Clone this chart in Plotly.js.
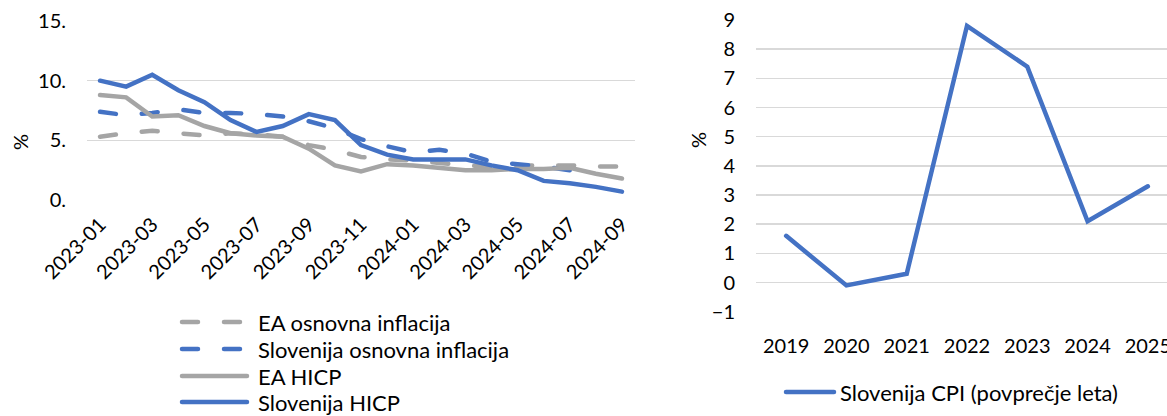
<!DOCTYPE html>
<html><head><meta charset="utf-8">
<script src="https://cdn.plot.ly/plotly-3.0.1.min.js"></script>
<style>
html,body{margin:0;padding:0;overflow:hidden;background:#fff;}
#chart{width:1180px;height:416px;}
.js-line{stroke-linecap:round;}
.shapelayer path{stroke-linecap:round;}
</style></head><body><div id="chart"></div>
<script>
const months = ['2023-01','2023-02','2023-03','2023-04','2023-05','2023-06','2023-07','2023-08','2023-09','2023-10','2023-11','2023-12',
                '2024-01','2024-02','2024-03','2024-04','2024-05','2024-06','2024-07','2024-08','2024-09'];
const eaCore = [5.3, 5.6, 5.8, 5.6, 5.4, 5.6, 5.5, 5.3, 4.6, 4.2, 3.6, 3.4, 3.3, 3.1, 2.9, 2.8, 2.9, 2.9, 2.9, 2.8, 2.8];
const siCore = [7.4, 7.1, 7.3, 7.6, 7.3, 7.3, 7.2, 7.0, 6.6, 6.0, 5.1, 4.5, 4.0, 4.2, 3.9, 3.2, 3.0, 2.8, 2.5, null, null];
const eaHicp = [8.8, 8.6, 7.0, 7.1, 6.2, 5.6, 5.4, 5.3, 4.3, 2.9, 2.4, 3.0, 2.9, 2.7, 2.5, 2.5, 2.6, 2.6, 2.7, 2.2, 1.8];
const siHicp = [10.0, 9.5, 10.5, 9.2, 8.2, 6.7, 5.7, 6.2, 7.2, 6.7, 4.6, 3.8, 3.4, 3.4, 3.4, 2.9, 2.5, 1.6, 1.4, 1.1, 0.7];
const years = ['2019','2020','2021','2022','2023','2024','2025'];
const siCpi = [1.6, -0.1, 0.3, 8.8, 7.4, 2.1, 3.3];
const leftNames = ['EA osnovna inflacija','Slovenija osnovna inflacija','EA HICP','Slovenija HICP'];
const rightName = 'Slovenija CPI (povprečje leta)';
const leftTickVals = [0, 5, 10, 15];
const leftTickText = ['0.', '5.', '10.', '15.'];
const rightTickVals = [-1, 0, 1, 2, 3, 4, 5, 6, 7, 8, 9];

const W = 1180, H = 416;
const BLUE = '#4472C4', GRAY = '#A5A5A5', GRID = '#D9D9D9';
const FONT = 'Lato, "Open Sans", sans-serif';
const px = v => v / W;
const py = v => 1 - v / H;
const DASH = '16px,26px';

const leftStyles = [
  {color: GRAY, dash: DASH},
  {color: BLUE, dash: DASH},
  {color: GRAY, dash: 'solid'},
  {color: BLUE, dash: 'solid'}
];
const leftSeries = [eaCore, siCore, eaHicp, siHicp];

const data = leftSeries.map((s, i) => ({
  type: 'scatter', mode: 'lines', x: months, y: s, name: leftNames[i],
  xaxis: 'x', yaxis: 'y', connectgaps: false,
  line: {color: leftStyles[i].color, width: 4.5, dash: leftStyles[i].dash},
  showlegend: false, hoverinfo: 'x+y+name'
}));
data.push({
  type: 'scatter', mode: 'lines', x: years, y: siCpi, name: rightName,
  xaxis: 'x2', yaxis: 'y2', line: {color: BLUE, width: 4.5}, showlegend: false
});

const legendY = [322, 349, 376, 402];
const shapes = [];
const annotations = [];
leftNames.forEach((n, i) => {
  shapes.push({type: 'line', xref: 'paper', yref: 'paper',
    x0: px(182), x1: px(247), y0: py(legendY[i]), y1: py(legendY[i]),
    line: {color: leftStyles[i].color, width: 4.5, dash: leftStyles[i].dash}});
  annotations.push({xref: 'paper', yref: 'paper', x: px(257), y: py(legendY[i]),
    xanchor: 'left', yanchor: 'middle', showarrow: false, text: n, borderpad: 0,
    font: {family: FONT, size: 22, color: '#000'}});
});
shapes.push({type: 'line', xref: 'paper', yref: 'paper',
  x0: px(786), x1: px(834), y0: py(392), y1: py(392),
  line: {color: BLUE, width: 4.5}});
annotations.push({xref: 'paper', yref: 'paper', x: px(839), y: py(392),
  xanchor: 'left', yanchor: 'middle', showarrow: false, text: rightName, borderpad: 0,
  font: {family: FONT, size: 22, color: '#000'}});
annotations.push({xref: 'paper', yref: 'paper', x: px(20), y: py(142),
  xanchor: 'center', yanchor: 'middle', showarrow: false, text: '%', textangle: -90,
  font: {family: FONT, size: 20, color: '#000'}});
annotations.push({xref: 'paper', yref: 'paper', x: px(698), y: py(140),
  xanchor: 'center', yanchor: 'middle', showarrow: false, text: '%', textangle: -90,
  font: {family: FONT, size: 20, color: '#000'}});

const layout = {
  width: W, height: H,
  margin: {l: 0, r: 0, t: 0, b: 0},
  paper_bgcolor: '#fff', plot_bgcolor: '#fff',
  font: {family: FONT, size: 20, color: '#000'},
  showlegend: false,
  xaxis: {
    domain: [px(87), px(635)], anchor: 'y', type: 'category',
    range: [-0.5, months.length - 0.5],
    tickmode: 'array', tickvals: months.filter((m, i) => i % 2 === 0),
    tickangle: -45, showgrid: false, zeroline: false, showline: false, ticks: '',
    ticklabelstandoff: 8, tickfont: {family: FONT, size: 20, color: '#000'}
  },
  yaxis: {
    domain: [py(200), py(21)], anchor: 'x', range: [0, 15],
    tickmode: 'array', tickvals: leftTickVals, ticktext: leftTickText,
    showgrid: true, gridcolor: GRID, gridwidth: 1.5, zeroline: false, showline: false, ticks: '',
    ticklabelstandoff: 20, tickfont: {family: FONT, size: 20, color: '#000'}
  },
  xaxis2: {
    domain: [px(756), px(1178)], anchor: 'y2', type: 'category',
    range: [-0.5, years.length - 0.5],
    showgrid: false, zeroline: false, showline: false, ticks: '',
    ticklabelstandoff: 20, tickfont: {family: FONT, size: 20, color: '#000'}
  },
  yaxis2: {
    domain: [py(311.7), py(20)], anchor: 'x2', range: [-1, 9],
    tickmode: 'array', tickvals: rightTickVals,
    showgrid: true, gridcolor: GRID, gridwidth: 1.5, zeroline: false, showline: false, ticks: '',
    ticklabelstandoff: 20, tickfont: {family: FONT, size: 20, color: '#000'}
  },
  shapes: shapes,
  annotations: annotations
};

Plotly.newPlot('chart', data, layout, {staticPlot: true, displayModeBar: false});
</script></body></html>
